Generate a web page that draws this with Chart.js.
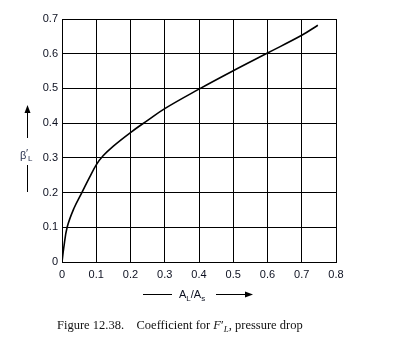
<!DOCTYPE html>
<html>
<head>
<meta charset="utf-8">
<script src="https://cdn.jsdelivr.net/npm/chart.js@4.4.0/dist/chart.umd.min.js"></script>
<style>
  body { margin: 0; background: #fff; }
  #wrap { position: relative; width: 411px; height: 363px; }
  #caption { position: absolute; left: 57px; top: 318px; font: 12.5px "Liberation Serif", "Times New Roman", serif; color: #111; white-space: nowrap; }
</style>
</head>
<body>
<div id="wrap">
  <canvas id="chart" width="411" height="363"></canvas>
  <div id="caption">Figure 12.38.&nbsp;&nbsp;&nbsp; Coefficient for <i>F</i>′<sub style="font-size:9px;vertical-align:-3px"><i>L</i></sub>, pressure drop</div>
</div>
<script>
// curve: A_L/A_s vs beta'_L
var ratio = [0, 0.005, 0.015, 0.035, 0.058, 0.08, 0.1, 0.12, 0.15, 0.2, 0.25, 0.3, 0.4, 0.5, 0.6, 0.7, 0.747];
var beta  = [0, 0.04, 0.1, 0.155, 0.2, 0.243, 0.28, 0.306, 0.334, 0.373, 0.408, 0.442, 0.498, 0.551, 0.602, 0.653, 0.682];
var xTicks = [0, 0.1, 0.2, 0.3, 0.4, 0.5, 0.6, 0.7, 0.8];
var yTicks = [0, 0.1, 0.2, 0.3, 0.4, 0.5, 0.6, 0.7];

var pts = ratio.map(function(x, i) { return { x: x, y: beta[i] }; });
var txt = '#0c1020';
var sans = '"Liberation Sans", Arial, sans-serif';

function arrowHead(ctx, x, y, dir) {
  ctx.beginPath();
  if (dir == 'up') {
    ctx.moveTo(x, y); ctx.lineTo(x - 3, y + 8); ctx.lineTo(x + 3, y + 8);
  } else {
    ctx.moveTo(x, y); ctx.lineTo(x - 8, y - 3); ctx.lineTo(x - 8, y + 3);
  }
  ctx.closePath();
  ctx.fill();
}

var titles = {
  id: 'titles',
  afterDraw: function(chart) {
    var ctx = chart.ctx;
    ctx.save();
    ctx.strokeStyle = '#000';
    ctx.fillStyle = '#000';
    ctx.lineWidth = 1;
    // y side: arrow, beta'_L, line
    ctx.beginPath();
    ctx.moveTo(27.5, 138); ctx.lineTo(27.5, 110);
    ctx.moveTo(27.5, 165); ctx.lineTo(27.5, 192);
    ctx.stroke();
    arrowHead(ctx, 27.5, 105, 'up');
    ctx.fillStyle = '#2a3350';
    ctx.textBaseline = 'alphabetic';
    ctx.font = '11px ' + sans;
    ctx.fillText('β', 20, 159);
    ctx.fillText('′', 26, 157);
    ctx.font = '8px ' + sans;
    ctx.fillText('L', 28, 161);
    // x side: line, A_L/A_s, arrow
    ctx.strokeStyle = '#000';
    ctx.fillStyle = '#000';
    ctx.beginPath();
    ctx.moveTo(143, 294.5); ctx.lineTo(172, 294.5);
    ctx.moveTo(216, 294.5); ctx.lineTo(247, 294.5);
    ctx.stroke();
    arrowHead(ctx, 253, 294.5, 'right');
    ctx.fillStyle = txt;
    ctx.font = '11px ' + sans;
    var x = 179;
    ctx.fillText('A', x, 298); x += ctx.measureText('A').width;
    ctx.font = '8px ' + sans;
    ctx.fillText('L', x, 301); x += ctx.measureText('L').width;
    ctx.font = '11px ' + sans;
    ctx.fillText('/A', x, 298); x += ctx.measureText('/A').width;
    ctx.font = '8px ' + sans;
    ctx.fillText('s', x, 301);
    ctx.restore();
  }
};

function fmt(v) { return v === 0 ? '0' : v.toFixed(1); }

var chart = new Chart('chart', {
  type: 'scatter',
  data: {
    datasets: [{
      data: pts,
      showLine: true,
      borderColor: '#000',
      borderWidth: 1.6,
      pointRadius: 0,
      tension: 0.4
    }]
  },
  options: {
    responsive: false,
    animation: false,
    layout: { padding: { left: 0, top: 19, right: 75, bottom: 81 } },
    plugins: { legend: { display: false }, tooltip: { enabled: false } },
    scales: {
      x: {
        type: 'linear', min: 0, max: 0.8,
        afterBuildTicks: function(s) { s.ticks = xTicks.map(function(v) { return { value: v }; }); },
        afterFit: function(s) { s.height = 20; },
        grid: { color: '#000', lineWidth: 1, drawTicks: false },
        border: { color: '#000', width: 1 },
        ticks: { color: txt, padding: 6, maxRotation: 0, font: { size: 11, family: sans }, callback: fmt }
      },
      y: {
        type: 'linear', min: 0, max: 0.7,
        afterBuildTicks: function(s) { s.ticks = yTicks.map(function(v) { return { value: v }; }); },
        afterFit: function(s) { s.width = 62; },
        grid: { color: '#000', lineWidth: 1, drawTicks: false },
        border: { color: '#000', width: 1 },
        ticks: { color: txt, padding: 4, font: { size: 11, family: sans }, callback: fmt }
      }
    }
  },
  plugins: [titles]
});
</script>
</body>
</html>
